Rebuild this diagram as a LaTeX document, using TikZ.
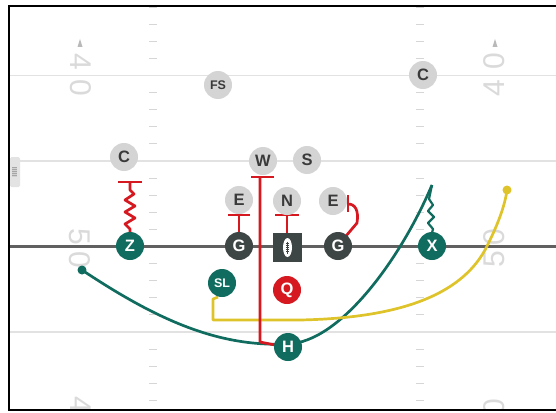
\documentclass[tikz,border=0pt]{standalone}
\usepackage{fontspec}
\setmainfont{Liberation Sans}
\usetikzlibrary{calc}
\definecolor{tealc}{RGB}{16,108,94}
\definecolor{dkg}{RGB}{62,70,69}
\definecolor{redc}{RGB}{214,24,32}
\definecolor{yelc}{RGB}{222,196,42}
\definecolor{ltg}{RGB}{212,212,212}
\definecolor{deftext}{RGB}{58,58,58}
\definecolor{numg}{RGB}{218,218,218}
\definecolor{yardg}{RGB}{226,226,226}
\definecolor{hashg}{RGB}{214,214,214}
\definecolor{losg}{RGB}{96,96,96}
\tikzset{
  pl/.style={circle, minimum size=28pt, inner sep=0pt, font=\bfseries\fontsize{16.5}{16.5}\selectfont, text=white},
  off/.style={pl, fill=tealc},
  lin/.style={pl, fill=dkg},
  dfn/.style={pl, fill=ltg, text=deftext},
  small/.style={font=\bfseries\fontsize{12.5}{13}\selectfont},
  rte/.style={line width=2.7pt, line join=round},
  blk/.style={rte, draw=redc},
  num/.style={text=numg, font=\fontsize{30}{30}\selectfont, inner sep=0pt},
  hash/.style={draw=hashg, line width=1.1pt},
  yard/.style={draw=yardg, line width=1.6pt},
}
\begin{document}
\begin{tikzpicture}[x=1pt,y=-1pt]
\useasboundingbox (0,0) rectangle (556,412);
\fill[white] (0,0) rectangle (556,412);
\begin{scope}
\clip (9,6) rectangle (556,410);
% yard lines
\foreach \y in {75.5,161,332} \draw[yard] (9,\y) -- (556,\y);
% hash marks
\foreach \b in {75.5,161,246.5,332} {
  \foreach \k in {-4,...,-1,1,2,3,4} {
    \draw[hash] (149,\b+\k*17.1) -- (157,\b+\k*17.1);
    \draw[hash] (416,\b+\k*17.1) -- (424,\b+\k*17.1);
  }
}
% yard numbers left
\node[num,rotate=-90] (l4) at (81,62) {4};
\node[num,rotate=-90] (l0) at (81,88) {0};
\fill[gray!55] (80,39) -- (82.5,47) -- (77.5,47) -- cycle;
\node[num,rotate=-90] (l5) at (80,237) {5};
\node[num,rotate=-90] (l50) at (80,260) {0};
\node[num,rotate=-90] (lb4) at (81,405) {4};
% yard numbers right
\node[num,rotate=90] (r0) at (494,61) {0};
\node[num,rotate=90] (r4) at (494,88) {4};
\fill[gray!55] (495,39) -- (497.5,47) -- (492.5,47) -- cycle;
\node[num,rotate=90] (r50) at (494,237) {0};
\node[num,rotate=90] (r5) at (494,259) {5};
\node[num,rotate=90] (rb0) at (494,407) {0};
% line of scrimmage
\draw[draw=losg, line width=2.6pt] (9,246.5) -- (556,246.5);
\end{scope}
% side marker
\fill[gray!22, rounded corners=1.5pt] (10,157) rectangle (20,187);
\fill[gray!70] (12,167) rectangle (17,177);
\foreach \yy in {168,170,172,174,176} \draw[gray!35, line width=0.4pt] (12,\yy) -- (17,\yy);
% frame
\draw[black, line width=2.6pt] (560,6) -- (9,6) -- (9,410) -- (560,410);

% coordinates for route ends
\coordinate (htip) at (432,185);
\coordinate (hstart) at (82,270);
\coordinate (ydot) at (507,190);

% teal H route
\draw[rte, draw=tealc] (hstart) .. controls (160,322) and (220,347) .. (288,344)
      .. controls (340,342) and (400,260) .. (htip);
\fill[tealc] (hstart) circle (4.5);
% X route
\draw[rte, draw=tealc, line width=2.2pt] (432,233) -- (433,229) -- (428,223) -- (434,217) -- (428,211) -- (433,205) -- (429,199) -- (htip);
% yellow SL route
\draw[rte, draw=yelc] (218,297) -- (213,299) -- (213,320) -- (300,320)
      .. controls (400,318) and (460,295) .. (485,250)
      .. controls (498,225) and (505,205) .. (ydot);
\fill[yelc] (ydot) circle (4.5);

% blocks
\draw[blk] (130,232) -- (130,229) -- (125,224) -- (135,218) -- (125,212) -- (135,206) -- (125,200) -- (134,194) -- (130,190) -- (130,182);
\draw[blk] (118,182) -- (142,182);
\draw[blk] (275,345) -- (260,342) -- (260,177);
\draw[blk] (251,177) -- (274,177);
\draw[blk] (239,233) -- (239,215);
\draw[blk] (228,215) -- (250,215);
\draw[blk] (287,233) -- (287,215);
\draw[blk] (275,215) -- (299,215);
\draw[blk] (346,236) -- (357,223) .. controls (359,210) and (355,204) .. (348,204);
\draw[blk] (348,195) -- (348,212);

% defense
\node[dfn, small] (fs) at (218,85) {FS};
\node[dfn] (c1) at (423,75) {C};
\node[dfn] (c2) at (124,157) {C};
\node[dfn] (w) at (263,161) {W};
\node[dfn] (s) at (307,160) {S};
\node[dfn] (e1) at (239,200) {E};
\node[dfn] (n) at (287,201) {N};
\node[dfn] (e2) at (333,201) {E};
% offense
\node[off] (z) at (130,246) {Z};
\node[lin] (g1) at (239,246) {G};
\node[lin] (g2) at (338,246) {G};
\node[off] (x) at (432,246) {X};
\node[off, small] (sl) at (222,283) {SL};
\node[pl, fill=redc] (q) at (287,290) {Q};
\node[off] (h) at (288,347) {H};
% center
\node[fill=dkg, minimum size=29pt, inner sep=0pt] (ctr) at (287.5,247.5) {};
\fill[white] (ctr.center) ellipse (4.5 and 9.5);
\draw[dkg, line width=0.8pt] ($(ctr.center)+(0,-6)$) -- ($(ctr.center)+(0,6)$);
\foreach \t in {-4,-2,0,2,4} \draw[dkg, line width=0.6pt] ($(ctr.center)+(-1.5,\t)$) -- ($(ctr.center)+(1.5,\t)$);
\end{tikzpicture}
\end{document}
